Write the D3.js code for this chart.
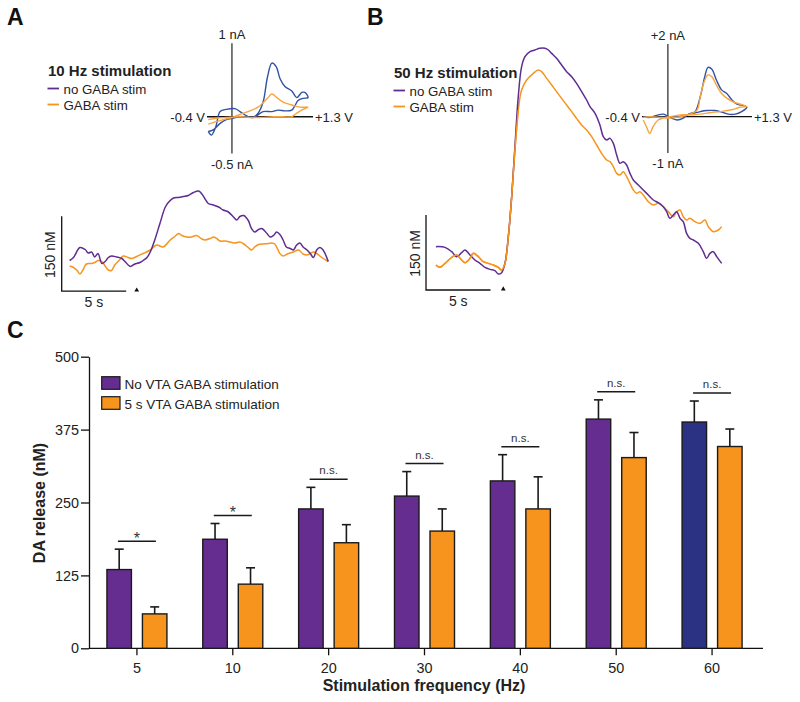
<!DOCTYPE html>
<html><head><meta charset="utf-8">
<script src="https://cdn.jsdelivr.net/npm/d3@7"></script>
<style>
html,body{margin:0;padding:0;background:#fff;}
svg{display:block;font-family:"Liberation Sans",Arial,Helvetica,sans-serif;}
</style></head>
<body>
<svg id="fig" width="800" height="702"></svg>
<script>
// ---------------- DATA ----------------
// Panel C
const freqs = ["5","10","20","30","40","50","60"];
const noGabaMean = [135, 187, 239, 261, 287, 393, 388];
const noGabaErr  = [35, 27, 37, 42, 45, 33, 36];
const gabaMean   = [59, 110, 181, 201, 239, 327, 346];
const gabaErr    = [12, 28, 31, 38, 55, 43, 30];
const sigLabels  = ["*","*","n.s.","n.s.","n.s.","n.s.","n.s."];
const yTicksC    = [0,125,250,375,500];
const legendC    = ["No VTA GABA stimulation","5 s VTA GABA stimulation"];

// Panel A traces: [time (s), DA (nM)]
const tenHzNoGaba = [[-5.2,9],[-4.9,15],[-4.4,35],[-4.0,31],[-3.75,24],[-3.5,26],[-3.25,16],[-3.0,23],[-2.7,3],[-2.45,7],[-2.2,15],[-1.95,18],[-1.55,16],[-1.15,13],[-0.9,7],[-0.5,-3],[-0.15,2],[0.25,5],[0.5,9],[0.8,15],[1.05,26],[1.4,50],[1.8,83],[2.2,115],[2.45,125],[2.85,134],[3.25,135],[3.6,137],[4.0,139],[4.4,145],[4.8,148],[5.05,142],[5.3,132],[5.55,123],[5.95,120],[6.35,116],[6.7,110],[7.1,106],[7.5,96],[7.75,90],[8.0,97],[8.3,99],[8.65,89],[8.9,73],[9.15,66],[9.45,71],[9.7,73],[10.1,63],[10.35,56],[10.6,59],[10.85,66],[11.1,61],[11.35,50],[11.6,36],[11.9,33],[12.15,30],[12.4,40],[12.65,44],[12.9,36],[13.2,30],[13.45,23],[13.7,15],[13.95,30],[14.2,35],[14.45,30],[14.85,7]];
const tenHzGaba = [[-5.2,-2],[-4.9,-5],[-4.65,-10],[-4.4,-18],[-4.15,-9],[-3.9,2],[-3.5,3],[-3.25,5],[-3.0,9],[-2.7,7],[-2.45,-2],[-2.2,-10],[-1.95,-11],[-1.7,0],[-1.3,11],[-1.05,18],[-0.65,15],[-0.4,13],[0,17],[0.5,23],[1.05,30],[1.55,40],[2.05,36],[2.6,50],[2.95,57],[3.25,63],[3.5,59],[3.9,56],[4.25,56],[4.65,59],[5.05,52],[5.3,50],[5.7,53],[5.95,56],[6.2,53],[6.45,48],[6.85,48],[7.25,46],[7.6,44],[8.0,46],[8.25,43],[8.65,35],[8.9,30],[9.15,36],[9.45,41],[9.8,42],[10.2,43],[10.45,44],[10.7,42],[11.1,23],[11.35,18],[11.75,23],[12.15,26],[12.55,30],[12.9,22],[13.2,20],[13.45,23],[13.7,26],[13.95,23],[14.35,15],[14.85,7]];
// Panel B traces
const fiftyHzNoGaba = [[-5.22,36.7],[-4.52,35.3],[-4.0,26.7],[-3.62,16.7],[-3.23,24.7],[-2.97,30],[-2.58,20],[-2.2,10],[-1.81,3.3],[-1.42,-4.7],[-1.03,-8.7],[-0.65,-11.3],[-0.39,-18],[-0.13,-15.3],[0.13,3.3],[0.39,56.7],[0.65,136.7],[0.9,236.7],[1.16,336.7],[1.42,396.7],[1.68,416.7],[2.07,426.7],[2.45,430],[2.84,433.3],[3.23,433.3],[3.49,430],[3.75,423.3],[4.13,413.3],[4.52,400],[4.91,386.7],[5.3,376.7],[5.68,363.3],[6.07,346.7],[6.46,330],[6.72,316.7],[7.11,303.3],[7.49,280],[7.75,256.7],[8.01,250],[8.27,253.3],[8.53,243.3],[8.79,220],[9.04,203.3],[9.3,206.7],[9.56,200],[9.82,183.3],[10.08,170],[10.47,160],[10.85,150],[11.24,140],[11.63,130],[12.02,124.7],[12.4,116.7],[12.66,106.7],[12.92,93.3],[13.18,100],[13.44,106.7],[13.7,93.3],[13.95,86.7],[14.21,63.3],[14.47,53.3],[14.73,50],[15.12,43.3],[15.5,26.7],[15.76,13.3],[16.02,23.3],[16.28,26.7],[16.54,16.7],[16.93,3.3]];
const fiftyHzGaba = [[-5.22,0],[-4.91,-4.7],[-4.52,3.3],[-4.0,15.3],[-3.62,20],[-3.23,10],[-2.97,4.7],[-2.58,13.3],[-2.33,23.3],[-1.94,16.7],[-1.55,6.7],[-1.16,3.3],[-0.78,0],[-0.39,-4.7],[-0.13,-10],[0.13,3.3],[0.39,56.7],[0.65,136.7],[0.9,230],[1.16,310],[1.42,350],[1.81,370],[2.33,383.3],[2.71,390],[2.97,386.7],[3.36,373.3],[3.75,360],[4.13,346.7],[4.52,333.3],[4.91,320],[5.3,306.7],[5.68,293.3],[6.07,280],[6.46,270],[6.85,256.7],[7.24,240],[7.62,223.3],[8.01,210],[8.27,206.7],[8.53,196.7],[8.79,183.3],[9.04,180],[9.3,186.7],[9.56,176.7],[9.82,163.3],[10.08,150],[10.34,143.3],[10.59,146.7],[10.85,140],[11.24,126.7],[11.63,120],[12.02,123.3],[12.4,116.7],[12.79,106.7],[13.18,96.7],[13.44,106.7],[13.7,110],[13.95,96.7],[14.21,90],[14.47,93.3],[14.86,86.7],[15.25,83.3],[15.63,90],[15.89,76.7],[16.28,66.7],[16.67,70],[16.93,76.7]];

// Cyclic voltammograms: [potential (V), current (nA)]
const cv10NoGaba = [[-0.38,-0.20],[-0.33,-0.25],[-0.26,-0.14],[-0.19,0.07],[-0.09,0.10],[0.05,0.11],[0.13,0.07],[0.24,0.01],[0.33,-0.01],[0.42,0.05],[0.50,0.20],[0.57,0.54],[0.64,0.73],[0.71,0.68],[0.77,0.52],[0.85,0.41],[0.96,0.35],[1.04,0.26],[1.12,0.33],[1.17,0.33],[1.22,0.26],[1.14,0.25],[1.06,0.22],[1.01,0.15],[0.96,0.09],[0.85,0.08],[0.74,0.09],[0.64,0.07],[0.50,0.07],[0.41,0.02],[0.34,-0.01],[0.25,0.0],[0.13,0.0],[0.02,-0.02],[-0.09,-0.04],[-0.19,-0.09],[-0.30,-0.18],[-0.38,-0.20]];
const cv10Gaba = [[-0.38,-0.10],[-0.27,-0.07],[-0.14,-0.04],[0.0,-0.01],[0.13,0.03],[0.29,0.08],[0.42,0.13],[0.50,0.19],[0.57,0.25],[0.64,0.31],[0.72,0.26],[0.82,0.20],[0.96,0.16],[1.09,0.13],[1.22,0.13],[1.14,0.10],[1.04,0.05],[0.96,0.0],[0.82,0.0],[0.66,0.0],[0.45,-0.01],[0.29,-0.01],[0.13,0.0],[-0.09,-0.01],[-0.25,-0.02],[-0.38,-0.04]];
const cv50NoGaba = [[-0.38,0.0],[-0.28,-0.02],[-0.15,0.05],[-0.07,0.07],[0.03,-0.02],[0.14,-0.09],[0.24,-0.04],[0.32,0.07],[0.42,0.14],[0.50,0.55],[0.57,1.10],[0.62,1.36],[0.68,1.31],[0.75,1.01],[0.83,0.74],[0.91,0.64],[0.99,0.46],[1.06,0.35],[1.14,0.32],[1.22,0.26],[1.14,0.14],[1.04,0.07],[0.93,0.07],[0.83,0.13],[0.73,0.17],[0.60,0.17],[0.50,0.14],[0.39,0.09],[0.29,0.05],[0.16,0.0],[0.03,0.0],[-0.12,-0.02],[-0.28,0.0],[-0.38,0.0]];
const cv50Gaba = [[-0.38,-0.09],[-0.33,-0.28],[-0.28,-0.46],[-0.23,-0.28],[-0.15,-0.09],[-0.07,-0.04],[0.03,0.0],[0.19,0.05],[0.34,0.07],[0.45,0.18],[0.50,0.55],[0.56,0.96],[0.62,1.15],[0.68,1.10],[0.75,0.87],[0.83,0.64],[0.91,0.51],[1.01,0.41],[1.11,0.35],[1.22,0.28],[1.11,0.26],[1.01,0.20],[0.91,0.17],[0.81,0.14],[0.65,0.11],[0.50,0.07],[0.34,0.05],[0.19,0.0],[0.03,-0.04],[-0.12,-0.02],[-0.28,0.0],[-0.38,-0.02]];

// ---------------- STYLE ----------------
const PURPLE = "#662d91", NAVY = "#2b3183", ORANGE = "#f7941d";
const TRACE_P = "#5f2d92", TRACE_O = "#f7941d";
const CV_B = "#3352a3", CV_O = "#f9a53c";
const FONT = '"Liberation Sans",Arial,Helvetica,sans-serif';

const svg = d3.select("#fig");
svg.append("rect").attr("width",800).attr("height",702).attr("fill","#fff");

// panel letters
[["A",7,25],["B",367,25],["C",7,338]].forEach(([t,x,y])=>{
  svg.append("text").attr("x",x).attr("y",y).attr("font-size",23).attr("font-weight","bold").attr("fill","#111").text(t);
});

// ---------- trace panels ----------
function tracePanel(cfg){
  const g = svg.append("g");
  const x = d3.scaleLinear().domain([0,5]).range([cfg.x0, cfg.x0 + 64.5]);
  const y = d3.scaleLinear().domain([0,150]).range([265, 190]);
  const line = d3.line().x(d=>x(d[0])).y(d=>y(d[1])).curve(d3.curveCatmullRom.alpha(0.5));
  g.append("path").datum(cfg.gaba).attr("d",line).attr("fill","none").attr("stroke",TRACE_O).attr("stroke-width",1.5);
  g.append("path").datum(cfg.noGaba).attr("d",line).attr("fill","none").attr("stroke",TRACE_P).attr("stroke-width",1.5);
  if (cfg.gabaOnTop) g.append("path").datum(cfg.gaba.filter(d=>d[0]<1.2)).attr("d",line).attr("fill","none").attr("stroke",TRACE_O).attr("stroke-width",1.5);
  // scale bars
  const sbLen = y(0)-y(150), sbW = x(5)-x(0);
  g.append("path").attr("d",`M${cfg.sbx},${cfg.sby-sbLen}V${cfg.sby}H${cfg.sbx+sbW}`).attr("fill","none").attr("stroke","#111").attr("stroke-width",1.3);
  g.append("text").attr("x",cfg.sbx+sbW/2).attr("y",cfg.sby+15.5).attr("text-anchor","middle").attr("font-size",14).attr("fill","#222").text("5 s");
  g.append("text").attr("transform",`translate(${cfg.sbx-6.5},${cfg.sby-sbLen/2+1}) rotate(-90)`).attr("text-anchor","middle").attr("font-size",14).attr("fill","#222").text("150 nM");
  // stim arrow
  g.append("path").attr("d",d3.symbol(d3.symbolTriangle,10)()).attr("transform",`translate(${x(0)},${cfg.sby-1})`).attr("fill","#111");
  // legend
  g.append("text").attr("x",cfg.lx).attr("y",cfg.ly).attr("font-size",15).attr("font-weight","bold").attr("fill","#222").text(cfg.title);
  [["no GABA stim",TRACE_P],["GABA stim",TRACE_O]].forEach(([t,c],i)=>{
    const yy = cfg.ly + 12.5 + i*16;
    g.append("line").attr("x1",cfg.lx-0.5).attr("x2",cfg.lx+11).attr("y1",yy).attr("y2",yy).attr("stroke",c).attr("stroke-width",1.8);
    g.append("text").attr("x",cfg.lx+15.5).attr("y",yy+5.5).attr("font-size",13.3).attr("fill","#222").text(t);
  });
}
tracePanel({x0:136.7, sbx:61.7, sby:291.2, noGaba:tenHzNoGaba, gaba:tenHzGaba, lx:48, ly:76, title:"10 Hz stimulation"});
tracePanel({x0:503.3, sbx:426, sby:290, noGaba:fiftyHzNoGaba, gaba:fiftyHzGaba, lx:394, ly:78, title:"50 Hz stimulation", gabaOnTop:true});

// ---------- CV insets ----------
function cvPanel(cfg){
  const g = svg.append("g");
  const x = d3.scaleLinear().domain([-0.4,1.3]).range([cfg.xl, cfg.xr]);
  const y = d3.scaleLinear().domain([cfg.iMin,cfg.iMax]).range([cfg.yb, cfg.yt]);
  g.append("line").attr("x1",x(-0.4)).attr("x2",x(1.3)).attr("y1",y(0)).attr("y2",y(0)).attr("stroke","#111").attr("stroke-width",1.3);
  g.append("line").attr("x1",x(0)).attr("x2",x(0)).attr("y1",y(cfg.iMax)).attr("y2",y(cfg.iMin)).attr("stroke","#333").attr("stroke-width",1.3);
  const line = d3.line().x(d=>x(d[0])).y(d=>y(d[1])).curve(d3.curveCatmullRom.alpha(0.5));
  g.append("path").datum(cfg.blue).attr("d",line).attr("fill","none").attr("stroke",CV_B).attr("stroke-width",1.4);
  g.append("path").datum(cfg.orange).attr("d",line).attr("fill","none").attr("stroke",CV_O).attr("stroke-width",1.4);
  g.append("text").attr("x",x(0)).attr("y",y(cfg.iMax)-4).attr("text-anchor","middle").attr("font-size",13).attr("fill","#222").text(cfg.top);
  g.append("text").attr("x",x(0)).attr("y",y(cfg.iMin)+15).attr("text-anchor","middle").attr("font-size",13).attr("fill","#222").text(cfg.bot);
  g.append("text").attr("x",x(-0.4)-2).attr("y",y(0)+5).attr("text-anchor","end").attr("font-size",13).attr("fill","#222").text("-0.4 V");
  g.append("text").attr("x",x(1.3)+2).attr("y",y(0)+5).attr("text-anchor","start").attr("font-size",13).attr("fill","#222").text("+1.3 V");
}
cvPanel({xl:207, xr:313, yb:153.5, yt:43.2, iMin:-0.5, iMax:1, blue:cv10NoGaba, orange:cv10Gaba, top:"1 nA", bot:"-0.5 nA"});
cvPanel({xl:642, xr:752, yb:153, yt:44.1, iMin:-1, iMax:2, blue:cv50NoGaba, orange:cv50Gaba, top:"+2 nA", bot:"-1 nA"});

// ---------- Panel C ----------
const gc = svg.append("g");
const yC = d3.scaleLinear().domain([0,500]).range([648.3,356.7]);
const x0 = d3.scaleBand().domain(freqs).range([89,760]);
const x1 = d3.scaleBand().domain(["no","gaba"]).range([-30,30]).paddingInner(0.31);

const rows = freqs.map((f,i)=>({f, i, no:noGabaMean[i], noE:noGabaErr[i], ga:gabaMean[i], gaE:gabaErr[i], sig:sigLabels[i]}));

// axes
const yAxis = d3.axisLeft(yC).tickValues(yTicksC).tickSize(8).tickSizeOuter(0).tickPadding(2);
const ya = gc.append("g").attr("transform","translate(89,0)").call(yAxis);
ya.select(".domain").attr("stroke","#111").attr("stroke-width",1.3);
ya.selectAll(".tick line").attr("stroke","#111").attr("stroke-width",1.3);
ya.selectAll("text").attr("font-size",14.4).attr("font-family",FONT).attr("fill","#222");

const xAxis = d3.axisBottom(x0).tickSize(7).tickSizeOuter(0).tickPadding(7);
const xa = gc.append("g").attr("transform","translate(0,648.3)").call(xAxis);
xa.select(".domain").remove();
xa.selectAll(".tick line").attr("stroke","#111").attr("stroke-width",1.3);
xa.selectAll("text").attr("font-size",14.4).attr("font-family",FONT).attr("fill","#222");
gc.append("line").attr("x1",89).attr("x2",763).attr("y1",648.3).attr("y2",648.3).attr("stroke","#111").attr("stroke-width",1.3);

// bars + error bars
rows.forEach(r=>{
  const cx = x0(r.f) + x0.bandwidth()/2;
  [["no",r.no,r.noE,r.f==="60"?NAVY:PURPLE],["gaba",r.ga,r.gaE,ORANGE]].forEach(([k,v,e,c])=>{
    const bx = cx + x1(k), bw = x1.bandwidth();
    const mid = bx + bw/2;
    gc.append("line").attr("x1",mid).attr("x2",mid).attr("y1",yC(v)).attr("y2",yC(v+e)).attr("stroke","#1a1a1a").attr("stroke-width",1.6);
    gc.append("line").attr("x1",mid-4.5).attr("x2",mid+4.5).attr("y1",yC(v+e)).attr("y2",yC(v+e)).attr("stroke","#1a1a1a").attr("stroke-width",1.6);
    gc.append("rect").attr("x",bx).attr("y",yC(v)).attr("width",bw).attr("height",yC(0)-yC(v))
      .attr("fill",c).attr("stroke","#1a1a1a").attr("stroke-width",1.4);
  });
  // significance
  const top = Math.max(r.no+r.noE, r.ga+r.gaE);
  const ly = yC(top) - 8;
  gc.append("line").attr("x1",cx-19).attr("x2",cx+19).attr("y1",ly).attr("y2",ly).attr("stroke","#1a1a1a").attr("stroke-width",1.5);
  gc.append("text").attr("x",cx).attr("y", r.sig==="*" ? ly+2.5 : ly-5).attr("text-anchor","middle")
    .attr("font-size", r.sig==="*" ? 16 : 11.5).attr("fill","#333").text(r.sig);
});

// legend C
[[PURPLE,legendC[0]],[ORANGE,legendC[1]]].forEach(([c,t],i)=>{
  const yy = 376.7 + i*20;
  gc.append("rect").attr("x",101.7).attr("y",yy).attr("width",18.3).attr("height",12.6).attr("fill",c).attr("stroke","#1a1a1a").attr("stroke-width",1.2);
  gc.append("text").attr("x",124.5).attr("y",yy+12.3).attr("font-size",13.5).attr("fill","#222").text(t);
});

// axis titles
gc.append("text").attr("transform","translate(45,503) rotate(-90)").attr("text-anchor","middle").attr("font-size",16).attr("font-weight","bold").attr("fill","#222").text("DA release (nM)");
gc.append("text").attr("x",424).attr("y",691).attr("text-anchor","middle").attr("font-size",16).attr("font-weight","bold").attr("fill","#222").text("Stimulation frequency (Hz)");
</script>
</body></html>
